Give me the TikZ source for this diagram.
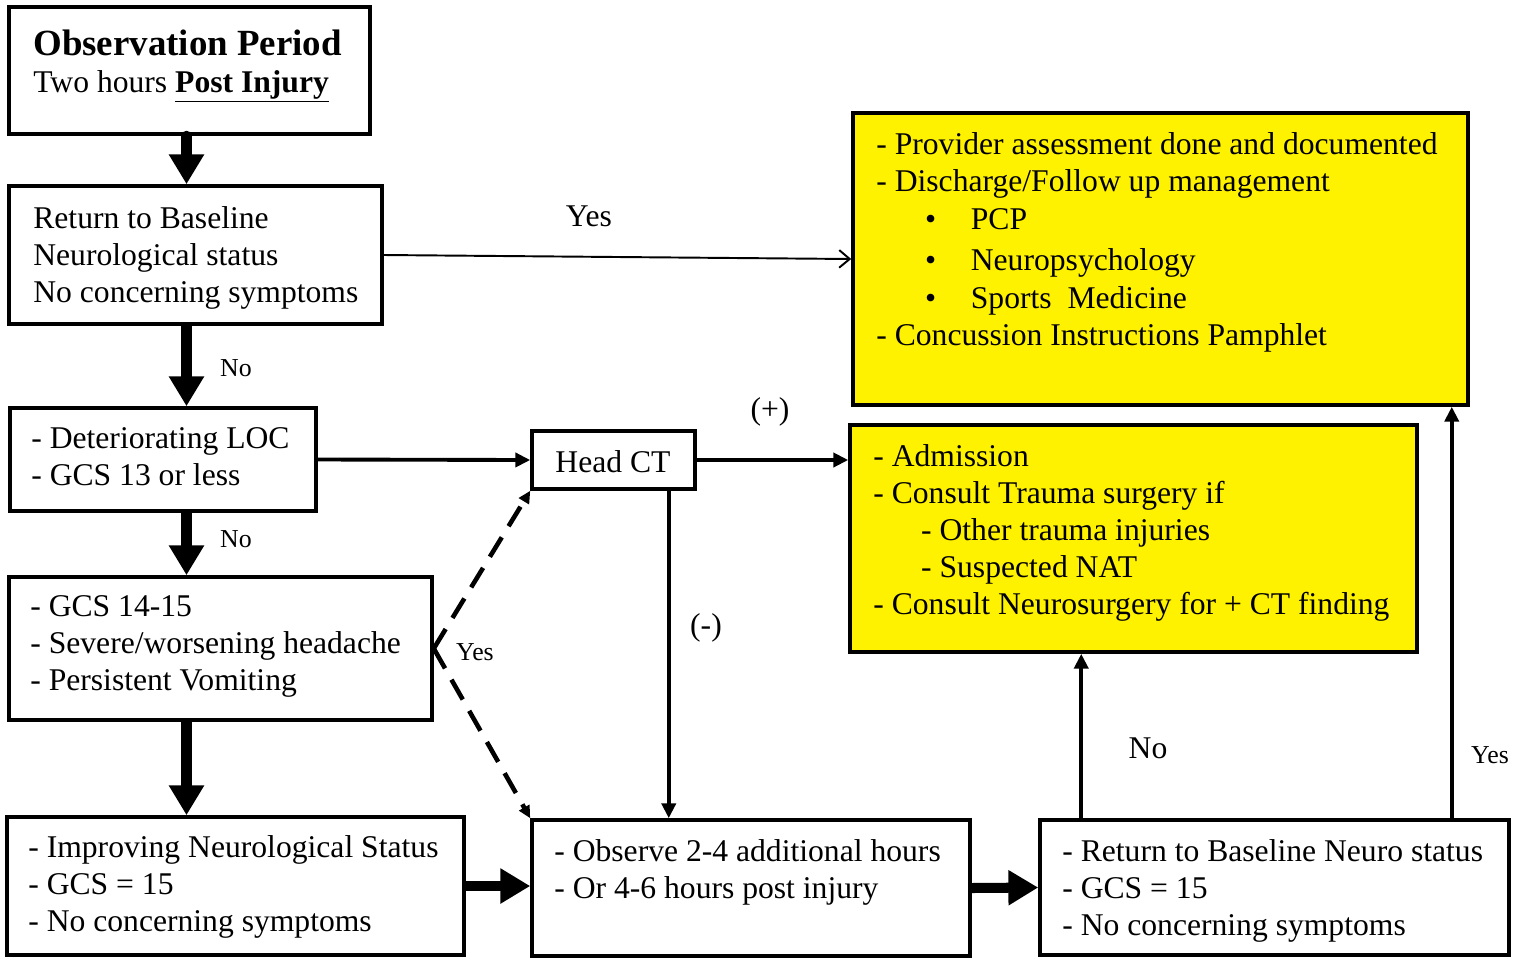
\documentclass[tikz,border=0pt]{standalone}
\usepackage{fontspec}
\setmainfont{Liberation Serif}
\usetikzlibrary{arrows.meta,fit,calc}

\tikzset{
  box/.style={draw, line width=2pt, inner sep=0pt},
  ybox/.style={box, fill=yellow},
  txt/.style={anchor=base west, align=left, inner sep=0pt, font=\fontsize{18}{21}\selectfont},
  lbl/.style={inner sep=0pt, font=\fontsize{18}{21}\selectfont},
  slbl/.style={inner sep=0pt, font=\fontsize{14.7}{17}\selectfont},
  bigarr/.style={line width=5.7pt, -{Triangle[length=17pt,width=19pt]}},
  medarr/.style={line width=2.2pt, -{Triangle[length=8.5pt,width=8pt]}},
  thinarr/.style={line width=1.1pt, -{Straight Barb[length=6pt,width=10pt]}},
  dasharr/.style={line width=2.6pt, dash pattern=on 13pt off 7.4pt, -{Triangle[length=7pt,width=6.5pt]}}
}

\begin{document}
\begin{tikzpicture}[x=0.02cm, y=-0.02cm]
    \useasboundingbox (0,0) rectangle (1525,958);

    \node[box, fit={(9,7) (370,134)}] (obs) {};
    \node[box, fit={(9,186) (382,324)}] (ret) {};
    \node[box, fit={(10,408) (316,511)}] (det) {};
    \node[box, fit={(9,577) (432,720)}] (gcs) {};
    \node[box, fit={(7,817) (464,955)}] (imp) {};
    \node[box, fit={(532,431) (695,489)}] (ct) {};
    \node[box, fit={(532,820) (970,956)}] (obsv) {};
    \node[box, fit={(1040,820) (1509,955)}] (retN) {};
    \node[ybox, fit={(853,113) (1468,405)}] (top) {};
    \node[ybox, fit={(850,425) (1417,652)}] (adm) {};

    \node[txt, font=\fontsize{21}{24}\selectfont\bfseries] (obsT) at (33,55) {Observation Period};
    \node[txt] (obsT2) at (33,92) {Two hours \underline{\textbf{Post Injury}}};
    \node[txt] (retT) at (33,302) {Return to Baseline\\ Neurological status\\ No concerning symptoms};
    \node[txt] (detT) at (31,485) {- Deteriorating LOC\\ - GCS 13 or less};
    \node[txt] (gcsT) at (30,690) {- GCS 14-15\\ - Severe/worsening headache\\ - Persistent Vomiting};
    \node[txt] (impT) at (28,931) {- Improving Neurological Status\\ - GCS = 15\\ - No concerning symptoms};
    \node[txt] (obsvT) at (554,898) {- Observe 2-4 additional hours\\ - Or 4-6 hours post injury};
    \node[txt] (retNT) at (1062,935) {- Return to Baseline Neuro status\\ - GCS = 15\\ - No concerning symptoms};
    \node[txt] (topT) at (876,345) {- Provider assessment done and documented\\
      - Discharge/Follow up management\\[0.5pt]
      \hspace*{27.8pt}\makebox[26pt][l]{\textbullet}PCP\\[2.3pt]
      \hspace*{27.8pt}\makebox[26pt][l]{\textbullet}Neuropsychology\\[1.1pt]
      \hspace*{27.8pt}\makebox[26pt][l]{\textbullet}Sports\ \ Medicine\\[-0.5pt]
      - Concussion Instructions Pamphlet};
    \node[txt] (admT) at (873,614) {- Admission\\
      - Consult Trauma surgery if\\
      \hspace*{27.2pt}- Other trauma injuries\\
      \hspace*{27.2pt}- Suspected NAT\\
      - Consult Neurosurgery for + CT finding};
    \node[lbl] (ctT) at (613,462) {Head CT};

    \node[lbl] (yes1) at (589,216) {Yes};
    \node[slbl] (no1) at (236,368) {No};
    \node[slbl] (no2) at (236,539) {No};
    \node[slbl] (yes2) at (475,652) {Yes};
    \node[lbl] (pos) at (770,412) {(+)};
    \node[lbl] (neg) at (706,628) {(-)};
    \node[lbl] (no3) at (1148,748) {No};
    \node[slbl] (yes3) at (1490,755) {Yes};

    \coordinate (dn) at ($(obs.south)+(-3,0)$);
    \coordinate (ctd) at ($(ct.south east)+(-28,0)$);
    \coordinate (rna) at ($(retN.north west)+(43,0)$);
    \coordinate (rnt) at ($(retN.north east)+(-59,0)$);

    \draw[bigarr, line cap=round] (dn) -- (dn |- ret.north);
    \draw[bigarr] (ret.south -| dn) -- (dn |- det.north);
    \draw[bigarr] (det.south -| dn) -- (dn |- gcs.north);
    \draw[bigarr] (gcs.south -| dn) -- (dn |- imp.north);
    \draw[bigarr] (imp.east) -- (imp.east -| obsv.west);
    \draw[bigarr] (obsv.east) -- (retN.west);
    \draw[thinarr] (ret.east) -- (top.west);
    \draw[medarr] (det.east) -- (ct.west);
    \draw[medarr] (ct.east) -- (ct.east -| adm.west);
    \draw[medarr] (ctd) -- (ctd |- obsv.north);
    \draw[medarr] (rna) -- (rna |- adm.south);
    \draw[medarr] (rnt) -- (rnt |- top.south);
    \draw[dasharr] (gcs.east) -- (ct.south west);
    \draw[dasharr] (gcs.east) -- (obsv.north west);
\end{tikzpicture}
\end{document}
